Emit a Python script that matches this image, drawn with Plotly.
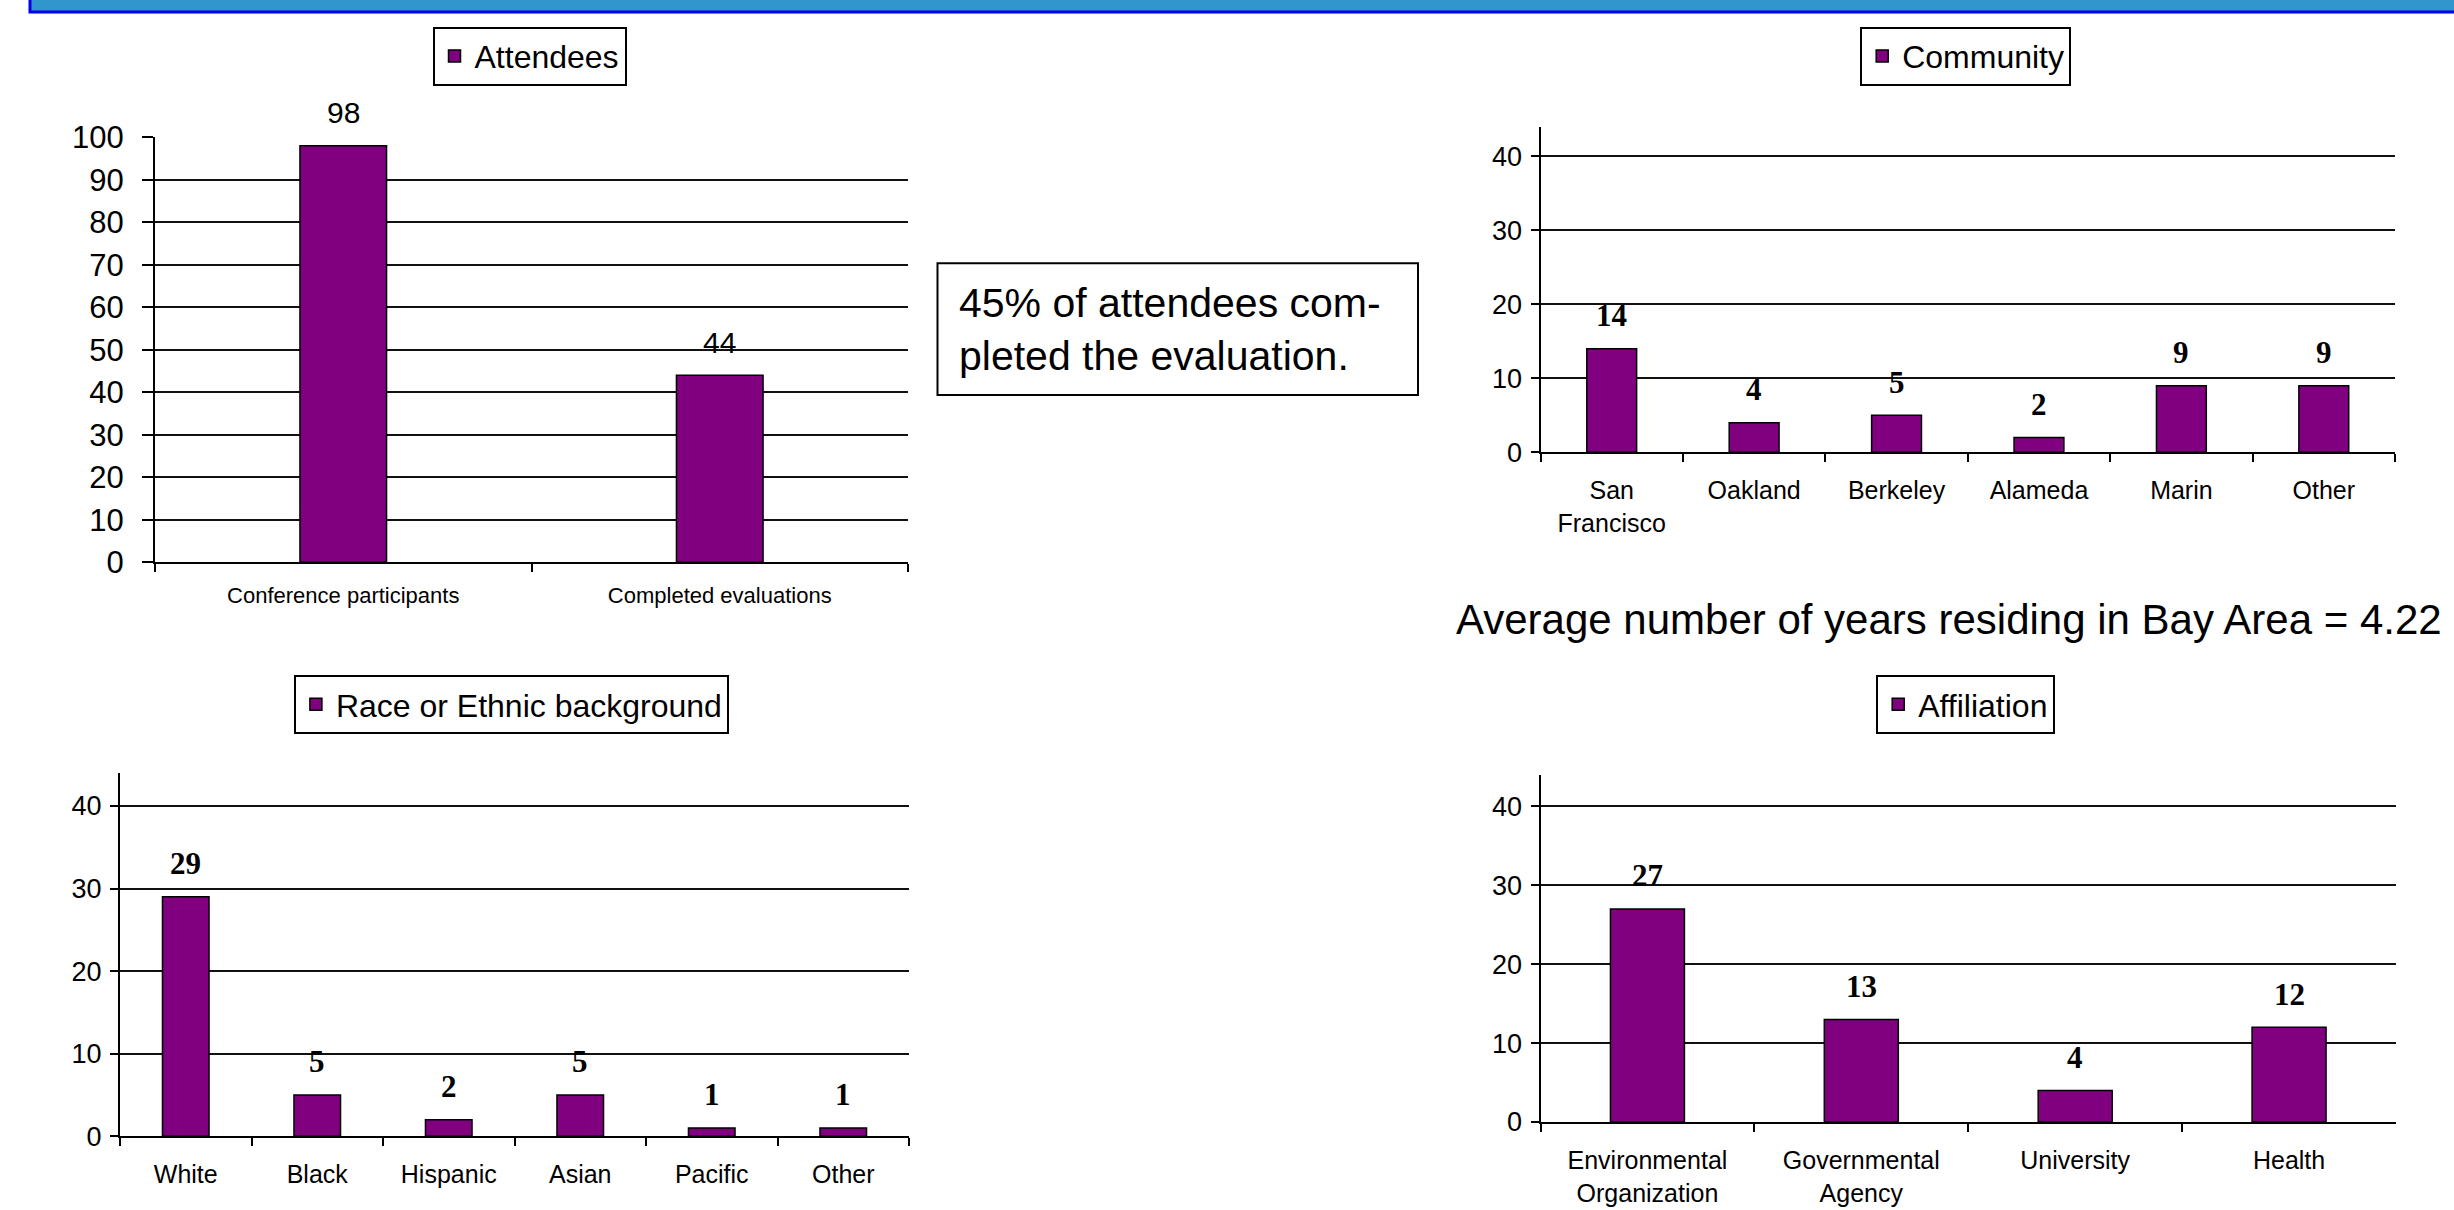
import plotly.graph_objects as go

# ---------------- data ----------------
attend_cats = ["Conference participants", "Completed evaluations"]
attend_vals = [98, 44]

community_cats = ["San<br>Francisco", "Oakland", "Berkeley", "Alameda", "Marin", "Other"]
community_vals = [14, 4, 5, 2, 9, 9]

race_cats = ["White", "Black", "Hispanic", "Asian", "Pacific", "Other"]
race_vals = [29, 5, 2, 5, 1, 1]

affil_cats = ["Environmental<br>Organization", "Governmental<br>Agency", "University", "Health"]
affil_vals = [27, 13, 4, 12]

note_text = "45% of attendees com-<br>pleted the evaluation."
avg_text = "Average number of years residing in Bay Area = 4.22"

# ---------------- style ----------------
SANS = "Liberation Sans, Arial, sans-serif"
SERIF = "Liberation Serif, Times New Roman, serif"
PURPLE = "#800080"
W, H = 2454, 1210

fig = go.Figure()

charts = [
    # name, cats, vals, xaxis, yaxis, legend, bar width
    ("Attendees", attend_cats, attend_vals, "x", "y", "legend", 0.23),
    ("Community", community_cats, community_vals, "x2", "y2", "legend2", 0.35),
    ("Race or Ethnic background", race_cats, race_vals, "x3", "y3", "legend3", 0.354),
    ("Affiliation", affil_cats, affil_vals, "x4", "y4", "legend4", 0.346),
]

for name, cats, vals, xa, ya, lg, bw in charts:
    fig.add_trace(go.Bar(
        x=cats, y=vals, name=name, xaxis=xa, yaxis=ya, legend=lg,
        width=bw, marker=dict(color=PURPLE, line=dict(color="black", width=1.5)),
        showlegend=True, hoverinfo="skip",
    ))
    first = (xa == "x")
    for c, v in zip(cats, vals):
        if first:
            f = dict(family=SANS, size=30, color="black")
        else:
            f = dict(family=SERIF, size=31, color="black", weight="bold")
        fig.add_annotation(
            x=c, y=v, xref=xa, yref=ya, text=str(v), showarrow=False,
            yanchor="middle", yshift=33, font=f,
        )

def xax(domain, anchor, fsize, standoff):
    return dict(domain=domain, anchor=anchor, type="category",
                showline=True, linecolor="black", linewidth=2,
                ticks="outside", ticklen=8, tickwidth=2, tickcolor="black",
                tickson="boundaries", showgrid=False, zeroline=False,
                tickfont=dict(family=SANS, size=fsize, color="black"),
                ticklabelstandoff=standoff, automargin=False, fixedrange=True)

def yax(domain, anchor, rng, fsize, tlen, standoff):
    return dict(domain=domain, anchor=anchor, range=rng, dtick=10, tick0=0,
                showline=True, linecolor="black", linewidth=2,
                showgrid=True, gridcolor="#111111", gridwidth=2,
                zeroline=False, ticks="outside", ticklen=tlen, tickwidth=2,
                tickcolor="black",
                tickfont=dict(family=SANS, size=fsize, color="black"),
                ticklabelstandoff=standoff, automargin=False, fixedrange=True)

def legend_box(xc, ytop, fsize):
    return dict(x=xc, y=ytop, xanchor="center", yanchor="top",
                bgcolor="white", bordercolor="black", borderwidth=2,
                font=dict(family=SANS, size=fsize, color="black"),
                itemclick=False, itemdoubleclick=False)

fig.update_layout(
    width=W, height=H,
    margin=dict(l=0, r=0, t=0, b=0, pad=0, autoexpand=False),
    paper_bgcolor="white", plot_bgcolor="white",
    xaxis=xax([155 / W, 908 / W], "y", 22, 12),
    yaxis=yax([1 - 562.3 / H, 1 - 137.3 / H], "x", [0, 100], 31, 11, 12),
    xaxis2=xax([1540.5 / W, 2395 / W], "y2", 25, 15),
    yaxis2=yax([1 - 452.3 / H, 1 - 126.7 / H], "x2", [0, 44], 27, 8, 3),
    xaxis3=xax([120 / W, 909 / W], "y3", 25, 15),
    yaxis3=yax([1 - 1136.2 / H, 1 - 773 / H], "x3", [0, 44], 27, 8, 3),
    xaxis4=xax([1540.5 / W, 2396 / W], "y4", 25, 15),
    yaxis4=yax([1 - 1122 / H, 1 - 774.7 / H], "x4", [0, 44], 27, 8, 3),
    legend=legend_box(529.5 / W, 1 - 26.7 / H, 32),
    legend2=legend_box(1965.7 / W, 1 - 26.7 / H, 32),
    legend3=legend_box(511.4 / W, 1 - 675 / H, 32),
    legend4=legend_box(1965.7 / W, 1 - 675 / H, 32),
    bargap=0.6,
)

# header band
fig.add_shape(type="rect", xref="paper", yref="paper",
              x0=30 / W, x1=1.01, y0=1 - 12 / H, y1=1.02,
              fillcolor="#3096CC", line=dict(color="#0000EE", width=3), layer="above")

# note box
fig.add_shape(type="rect", xref="paper", yref="paper",
              x0=937.5 / W, x1=1418 / W, y0=1 - 395 / H, y1=1 - 263.3 / H,
              fillcolor="white", line=dict(color="black", width=2))
fig.add_annotation(xref="paper", yref="paper", x=957 / W, y=1 - 329 / H,
                   xanchor="left", yanchor="middle", align="left",
                   text=note_text, showarrow=False,
                   font=dict(family=SANS, size=41, color="black"))

# average years text
fig.add_annotation(xref="paper", yref="paper", x=1949 / W, y=1 - 619.5 / H,
                   xanchor="center", yanchor="middle", text=avg_text, showarrow=False,
                   font=dict(family=SANS, size=42, color="black"))

fig.write_html("out.html", config={"displayModeBar": False},
               post_script="document.body.style.margin='0';document.body.style.overflow='hidden';")
